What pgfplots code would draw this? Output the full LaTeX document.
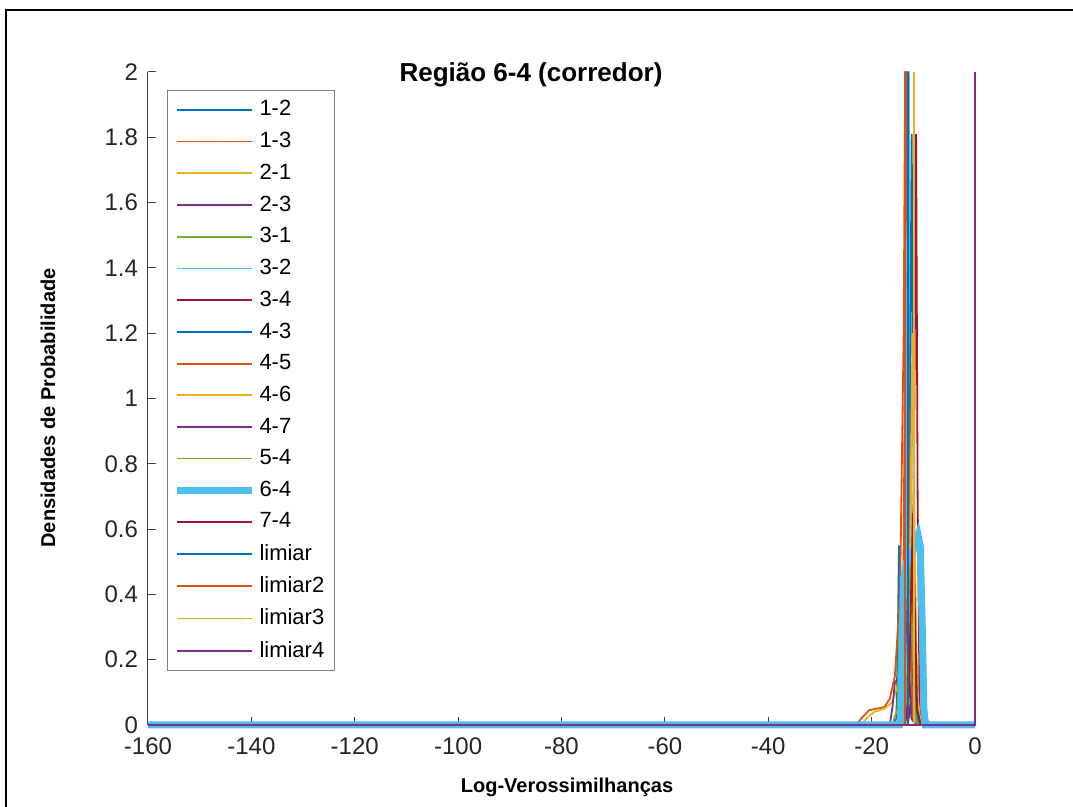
\documentclass[border=0pt]{standalone}
\usepackage{fontspec}
\setmainfont{Liberation Sans}
\usepackage{pgfplots}
\pgfplotsset{compat=1.18}

\definecolor{mB}{HTML}{0072BD}
\definecolor{mO}{HTML}{D95319}
\definecolor{mY}{HTML}{EDB120}
\definecolor{mP}{HTML}{7E2F8E}
\definecolor{mG}{HTML}{77AC30}
\definecolor{mC}{HTML}{4DBEEE}
\definecolor{mR}{HTML}{A2142F}
\definecolor{axgray}{HTML}{404040}

\begin{document}
\begin{tikzpicture}
\useasboundingbox (0,0) rectangle (536.5pt,-403.5pt);
% figure frame
\draw[line width=1pt] (3pt,-5pt) rectangle (545pt,-420pt);

\begin{axis}[
  at={(74pt,-362.5pt)}, anchor=south west,
  scale only axis, width=413.5pt, height=326.5pt,
  xmin=-160, xmax=0, ymin=0, ymax=2,
  clip=false,
  axis x line*=bottom, axis y line*=left,
  axis line style={axgray, line width=0.5pt},
  xtick={-160,-140,-120,-100,-80,-60,-40,-20,0},
  ytick={0,0.2,0.4,0.6,0.8,1,1.2,1.4,1.6,1.8,2},
  yticklabels={0,0.2,0.4,0.6,0.8,1,1.2,1.4,1.6,1.8,2},
  tick align=inside, major tick length=4pt,
  tick style={axgray, line width=0.5pt},
  ticklabel style={font=\fontsize{12}{14}\selectfont, text=black!85},
  xticklabel style={yshift=-2.7pt},
  yticklabel style={xshift=-1.5pt},
  /pgf/number format/assume math mode=true,
  legend cell align=left,
  legend image code/.code={\draw[#1] (0pt,0pt) -- (37.5pt,0pt);},
  legend style={at={(0.023,0.9724)}, anchor=north west,
    draw=gray, line width=0.5pt, font=\fontsize{11}{13}\selectfont,
    inner xsep=3pt, inner ysep=3pt, row sep=2.7pt},
  every axis plot/.append style={line width=0.9pt},
]
% 1-2
\addplot[mB] coordinates {(-16,0) (-15.2,0.02) (-14.9,0.3) (-14.7,0.55) (-14.5,0.3) (-14.2,0.02) (-13.5,0)};
\addlegendentry{1-2}
% 1-3
\addplot[mO] coordinates {(-23,0) (-22,0.02) (-20.5,0.045) (-19,0.05) (-17.5,0.055) (-16.5,0.08) (-15.5,0.15) (-14.5,0.4) (-13.8,1.2) (-13.51,2) (-13.11,2) (-12.8,1.0) (-12.3,0.2) (-11.5,0.02) (-10.5,0)};
\addlegendentry{1-3}
% 2-1
\addplot[mY] coordinates {(-22,0) (-21,0.02) (-19.5,0.04) (-17.5,0.05) (-16,0.07) (-15,0.12) (-14,0.3) (-13,1.1) (-12.5,0.9) (-12,0.4) (-11,0.12) (-10,0.04) (-9,0.01) (-7.7,0)};
\addlegendentry{2-1}
% 2-3
\addplot[mP] coordinates {(-16.5,0) (-16,0.05) (-15.5,0.13) (-15,0.14) (-14.5,0.12) (-14,0.3) (-13.5,0.5) (-13,0.2) (-12,0.02) (-11,0)};
\addlegendentry{2-3}
% 3-1
\addplot[mG] coordinates {(-16,0) (-15,0.05) (-14.6,0.3) (-14.3,0.36) (-13.9,0.35) (-13.3,0.6) (-12.8,0.3) (-12,0.05) (-11,0)};
\addlegendentry{3-1}
% 3-2
\addplot[mC] coordinates {(-14,0) (-13.4,0.2) (-13.1,1.5) (-13.0,2) (-12.8,2) (-12.6,1.0) (-12.2,0.1) (-11.5,0)};
\addlegendentry{3-2}
% 3-4
\addplot[mR] coordinates {(-13,0) (-12.2,0.1) (-11.8,0.8) (-11.4,1.81) (-11.1,0.7) (-10.7,0.05) (-10,0)};
\addlegendentry{3-4}
% 4-3
\addplot[mB] coordinates {(-14,0) (-13,0.1) (-12.6,0.9) (-12.25,1.81) (-11.9,0.8) (-11.4,0.05) (-10.8,0)};
\addlegendentry{4-3}
% 4-5
\addplot[mO] coordinates {(-14.5,0) (-14,0.1) (-13.6,1.0) (-13.37,2) (-13.2,2) (-13,1.4) (-12.6,0.3) (-12,0.02) (-11.5,0)};
\addlegendentry{4-5}
% 4-6
\addplot[mY] coordinates {(-14,0) (-13,0.1) (-12.5,0.6) (-12.1,1.2) (-11.7,0.6) (-11.2,0.1) (-10.5,0)};
\addlegendentry{4-6}
% 4-7
\addplot[mP] coordinates {(-15,0) (-14.3,0.1) (-13.8,0.35) (-13.4,0.45) (-13,0.2) (-12.3,0.02) (-11.5,0)};
\addlegendentry{4-7}
% 5-4
\addplot[mG] coordinates {(-14,0) (-13.2,0.1) (-12.8,0.4) (-12.5,0.5) (-12.2,0.3) (-11.6,0.03) (-11,0)};
\addlegendentry{5-4}
% 6-4 (thick)
\addplot[mC, line width=3.5pt] coordinates {(-160,0) (-14.6,0) (-14.3,0.04) (-14.0,0.3) (-13.8,0.45) (-13.2,0.5) (-12.4,0.52) (-11.6,0.55) (-11.0,0.58) (-10.6,0.55) (-10.2,0.3) (-9.9,0.05) (-9.6,0) (0,0)};
\addlegendentry{6-4}
% 7-4
\addplot[mR] coordinates {(-13.5,0) (-12.8,0.1) (-12.3,0.45) (-12,0.65) (-11.7,0.4) (-11.2,0.05) (-10.5,0)};
\addlegendentry{7-4}
% thresholds
\addplot[mB] coordinates {(-13.0,0) (-13.0,2)};
\addlegendentry{limiar}
\addplot[mO] coordinates {(-13.5,0) (-13.5,2)};
\addlegendentry{limiar2}
\addplot[mY] coordinates {(-11.8,0) (-11.8,2)};
\addlegendentry{limiar3}
\addplot[mP] coordinates {(-160,0) (0,0) (0,2)};
\addlegendentry{limiar4}
\end{axis}

\node[font=\fontsize{13}{15}\selectfont\bfseries] at (265.5pt,-37.5pt) {Região 6-4 (corredor)};
\node[font=\fontsize{10}{12}\selectfont\bfseries, rotate=90] at (24pt,-204pt) {Densidades de Probabilidade};
\node[font=\fontsize{10}{12}\selectfont\bfseries] at (283.5pt,-393.5pt) {Log-Verossimilhanças};
\end{tikzpicture}
\end{document}
